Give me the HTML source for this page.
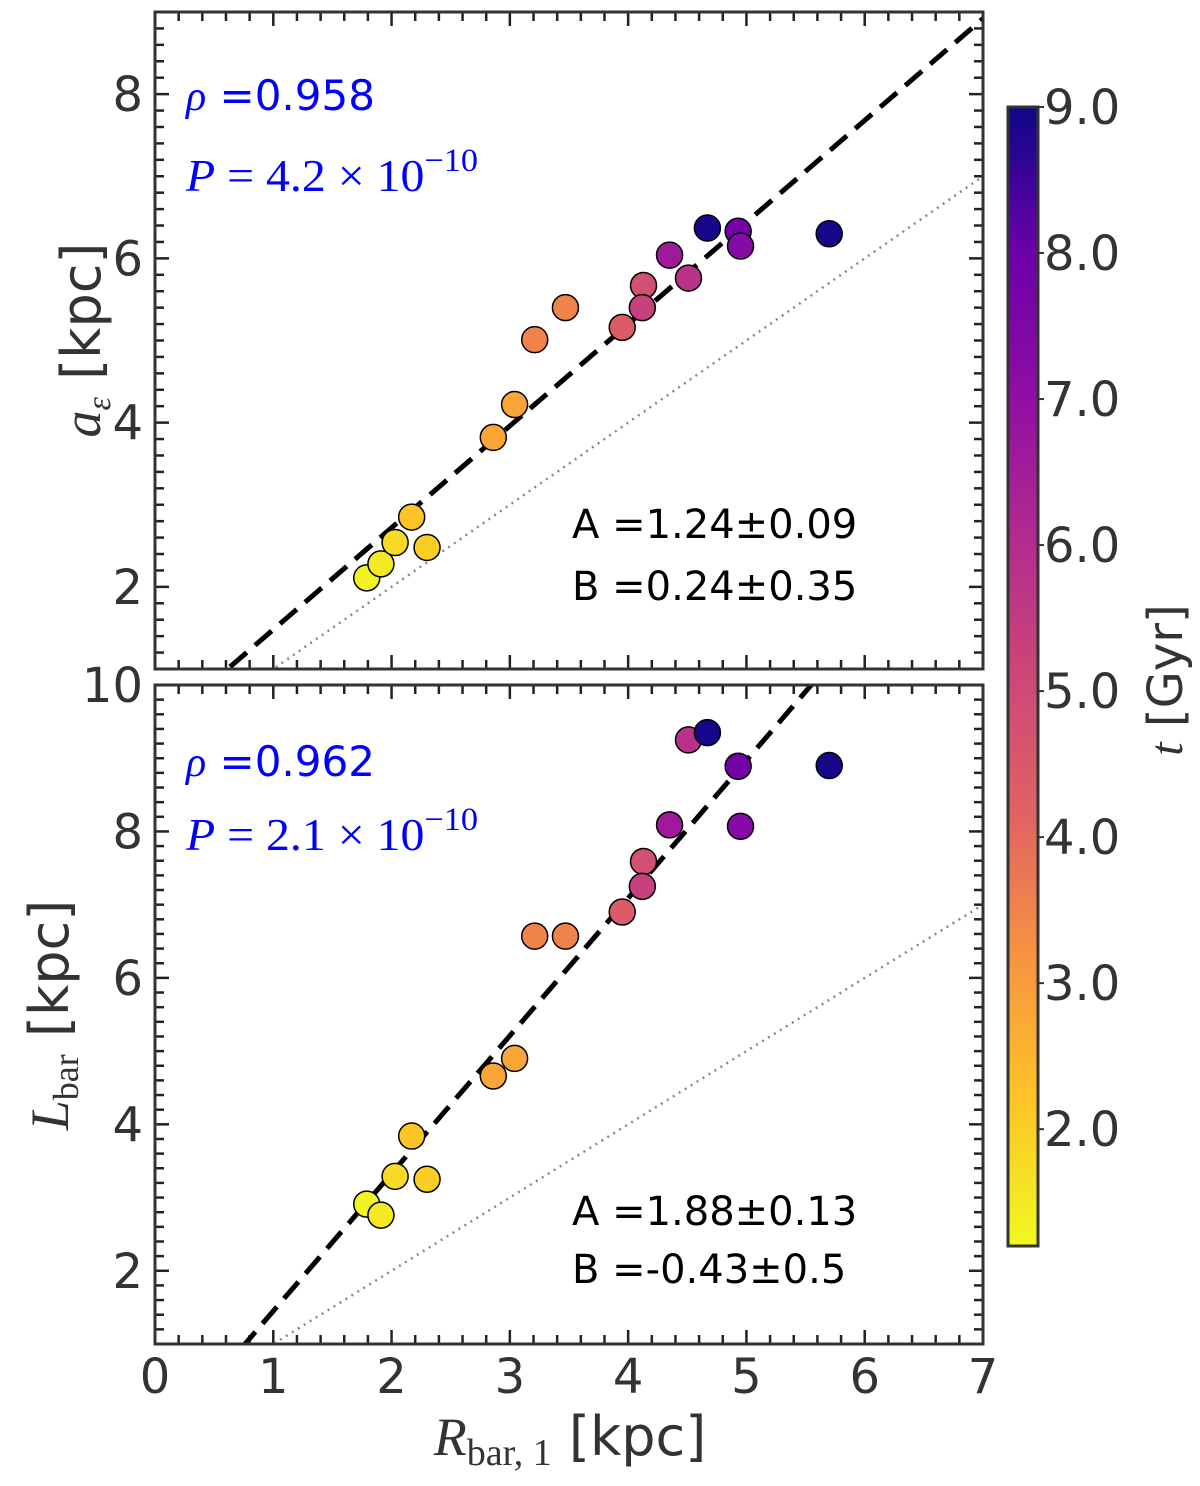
<!DOCTYPE html>
<html><head><meta charset="utf-8"><style>
body{margin:0;background:#fff}
</style></head><body>
<svg id="chart" width="1200" height="1481" viewBox="0 0 1200 1481" xmlns="http://www.w3.org/2000/svg" style="font-family:'DejaVu Sans','Liberation Sans',sans-serif">
<defs>
<linearGradient id="plasma" x1="0" y1="1" x2="0" y2="0">
<stop offset="0" stop-color="#f0f921"/><stop offset="0.125" stop-color="#fdc527"/><stop offset="0.25" stop-color="#f89540"/><stop offset="0.375" stop-color="#e16462"/><stop offset="0.5" stop-color="#cc4778"/><stop offset="0.625" stop-color="#b12a90"/><stop offset="0.75" stop-color="#8f0da4"/><stop offset="0.875" stop-color="#6a00a8"/><stop offset="1" stop-color="#0d0887"/>
</linearGradient>
</defs>
<g id="layer"></g>
</svg>
<script>
const rbar=[1.79,1.91,2.03,2.17,2.30,2.86,3.04,3.21,3.47,3.95,4.13,4.12,4.35,4.51,4.67,4.93,4.95,5.70];
const aeps=[2.11,2.28,2.54,2.85,2.48,3.82,4.22,5.01,5.40,5.16,5.67,5.40,6.04,5.76,6.37,6.33,6.15,6.30];
const lbar=[2.91,2.76,3.29,3.84,3.25,4.66,4.90,6.57,6.57,6.90,7.59,7.25,8.09,9.25,9.35,8.89,8.07,8.90];
const tgyr=[1.3,1.5,1.8,2.2,2.0,2.8,2.8,3.5,3.5,4.4,4.8,5.3,6.6,5.8,8.9,7.8,7.3,8.9];
const xTicks=[0,1,2,3,4,5,6,7];
const topYTicks=[2,4,6,8];
const botYTicks=[2,4,6,8,10];
const cbTicks=[2,3,4,5,6,7,8,9];
const fitTop=[1.24,0.24], fitBot=[1.88,-0.43];

const NS="http://www.w3.org/2000/svg";
const L=document.getElementById('layer');
function el(t,a,p){const e=document.createElementNS(NS,t);for(const k in a)e.setAttribute(k,a[k]);(p||L).appendChild(e);return e;}
const X0=155,X1=983;
const sx=v=>X0+(X1-X0)*v/7;
const panels=[
 {top:12,bot:669,ymin:1,ymax:9,ys:aeps,ticks:topYTicks,fit:fitTop,name:'top'},
 {top:685,bot:1344,ymin:1,ymax:10,ys:lbar,ticks:botYTicks,fit:fitBot,name:'bottom'}];
const stops=[[0,'#f0f921'],[0.125,'#fdc527'],[0.25,'#f89540'],[0.375,'#e16462'],[0.5,'#cc4778'],[0.625,'#b12a90'],[0.75,'#8f0da4'],[0.875,'#6a00a8'],[1,'#0d0887']];
function hx(c){return [1,3,5].map(i=>parseInt(c.substr(i,2),16));}
function cmap(t){let f=(t-1.2)/(9-1.2);f=Math.max(0,Math.min(1,f));
 for(let i=0;i<stops.length-1;i++){if(f<=stops[i+1][0]){const u=(f-stops[i][0])/(stops[i+1][0]-stops[i][0]);const a=hx(stops[i][1]),b=hx(stops[i+1][1]);return 'rgb('+a.map((v,j)=>Math.round(v+(b[j]-v)*u)).join(',')+')';}}return stops[8][1];}
panels.forEach(P=>{
 const sy=v=>P.bot-(P.bot-P.top)*(v-P.ymin)/(P.ymax-P.ymin);
 const g=el('g',{});
 
 
 const cp='clip'+P.name;
 const c=el('clipPath',{id:cp},g);el('rect',{x:X0,y:P.top,width:X1-X0,height:P.bot-P.top},c);
 for(let v=0;v<=7.001;v+=0.2){const x=sx(v);const maj=Math.abs(v-Math.round(v))<0.01;const len=maj?14:9;
  el('line',{x1:x,y1:P.bot,x2:x,y2:P.bot-len,stroke:'#222','stroke-width':2.5},g);
  el('line',{x1:x,y1:P.top,x2:x,y2:P.top+len,stroke:'#222','stroke-width':2.5},g);}
 for(let v=P.ymin;v<=P.ymax+0.001;v+=0.2){const y=sy(v);const maj=Math.abs(v/2-Math.round(v/2))<0.01;const len=maj?14:9;
  el('line',{x1:X0,y1:y,x2:X0+len,y2:y,stroke:'#222','stroke-width':2.5},g);
  el('line',{x1:X1,y1:y,x2:X1-len,y2:y,stroke:'#222','stroke-width':2.5},g);}
 P.ticks.forEach(v=>{const t=el('text',{x:X0-12,y:sy(v)+17,'text-anchor':'end','font-size':48,fill:'#333'},g);t.textContent=v;
  });
 const lines=el('g',{'clip-path':'url(#'+cp+')'},g);
 const d=el('line',{x1:sx(0),y1:sy(0),x2:sx(7),y2:sy(7),stroke:'#888','stroke-width':2.5,'stroke-dasharray':'2 5'},lines);
 
 const f=el('line',{x1:sx(0),y1:sy(P.fit[1]),x2:sx(8),y2:sy(P.fit[0]*8+P.fit[1]),stroke:'#000','stroke-width':5,'stroke-dasharray':'22 11'},lines);
 
 rbar.forEach((x,i)=>{const p=el('circle',{cx:sx(x),cy:sy(P.ys[i]),r:13,fill:cmap(tgyr[i]),stroke:'#000','stroke-width':1.5},g);
  });
 const fr=el('rect',{x:X0,y:P.top,width:X1-X0,height:P.bot-P.top,fill:'none',stroke:'#333','stroke-width':3},g);
 
});
xTicks.forEach(v=>{const t=el('text',{x:sx(v),y:1393,'text-anchor':'middle','font-size':48,fill:'#333'});t.textContent=v;
 });
const cb=el('rect',{x:1008,y:107,width:30,height:1139,fill:'url(#plasma)',stroke:'#333','stroke-width':3});

const cy=v=>1246-1139*(v-1.2)/(9-1.2);
cbTicks.forEach(v=>{el('line',{x1:1038,y1:cy(v),x2:1044,y2:cy(v),stroke:'#333','stroke-width':2});
 const t=el('text',{x:1044,y:cy(v)+17,'font-size':48,fill:'#333'});t.textContent=v.toFixed(1);
 });
</script>
<svg style="position:absolute;left:0;top:0;font-family:'DejaVu Sans',sans-serif" width="1200" height="1481" xmlns="http://www.w3.org/2000/svg">
<text x="186" y="110" font-size="42" fill="#0000ff"><tspan style="font-family:'Liberation Serif',serif;font-style:italic">ρ</tspan> =0.958</text>
<text x="186" y="191" font-size="46" fill="#0000ff" style="font-family:'Liberation Serif',serif" textLength="292" lengthAdjust="spacingAndGlyphs"><tspan font-style="italic">P</tspan> = 4.2 × 10<tspan dy="-20" font-size="33">−10</tspan></text>
<text x="572" y="538" font-size="40" fill="#000">A =1.24±0.09</text>
<text x="572" y="600" font-size="40" fill="#000">B =0.24±0.35</text>
<text x="186" y="776" font-size="42" fill="#0000ff"><tspan style="font-family:'Liberation Serif',serif;font-style:italic">ρ</tspan> =0.962</text>
<text x="186" y="850" font-size="46" fill="#0000ff" style="font-family:'Liberation Serif',serif" textLength="292" lengthAdjust="spacingAndGlyphs"><tspan font-style="italic">P</tspan> = 2.1 × 10<tspan dy="-20" font-size="33">−10</tspan></text>
<text x="572" y="1225" font-size="40" fill="#000">A =1.88±0.13</text>
<text x="572" y="1283" font-size="40" fill="#000">B =-0.43±0.5</text>
<text x="570" y="1455" text-anchor="middle" font-size="54" fill="#333"><tspan style="font-family:'Liberation Serif',serif;font-style:italic">R</tspan><tspan style="font-family:'Liberation Serif',serif" font-size="38" dy="10">bar, 1</tspan><tspan dy="-10"> [kpc]</tspan></text>
<text transform="translate(100,340) rotate(-90)" text-anchor="middle" font-size="54" fill="#333"><tspan style="font-family:'Liberation Serif',serif;font-style:italic">a</tspan><tspan style="font-family:'Liberation Serif',serif;font-style:italic" font-size="34" dy="10">ε</tspan><tspan dy="-10"> [kpc]</tspan></text>
<text transform="translate(68,1015) rotate(-90)" text-anchor="middle" font-size="54" fill="#333"><tspan style="font-family:'Liberation Serif',serif;font-style:italic">L</tspan><tspan style="font-family:'Liberation Serif',serif" font-size="36" dy="10">bar</tspan><tspan dy="-10"> [kpc]</tspan></text>
<text transform="translate(1182,680) rotate(-90)" text-anchor="middle" font-size="48" fill="#333"><tspan style="font-family:'Liberation Serif',serif;font-style:italic">t</tspan> [Gyr]</text>
</svg>
</body></html>
